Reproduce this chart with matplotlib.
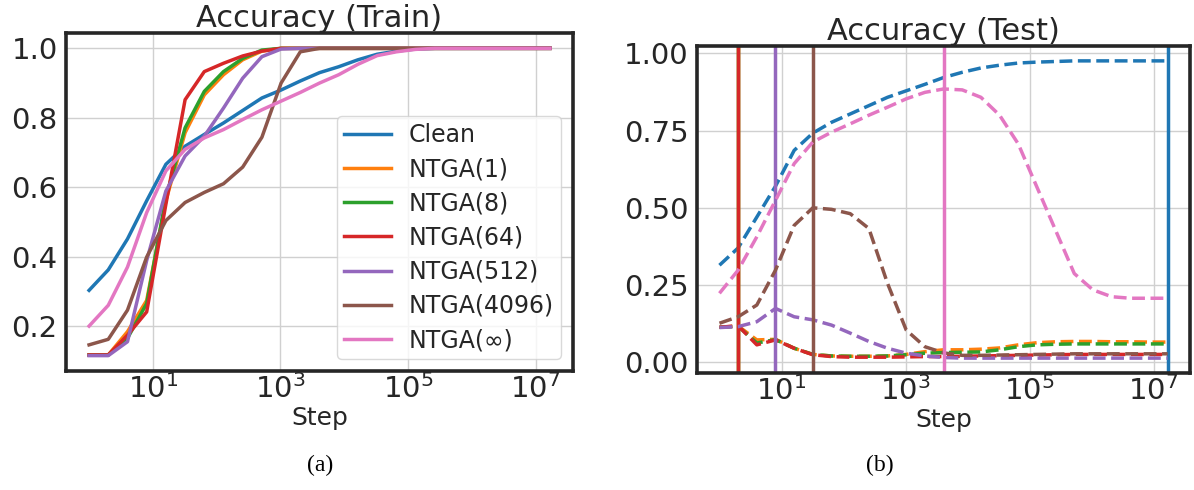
import numpy as np
import matplotlib
matplotlib.use("Agg")
import matplotlib.pyplot as plt

# ── Data ──────────────────────────────────────────────────────────────────────
steps = [1, 2, 4, 8, 16, 32, 64, 128, 256, 512, 1024, 2048, 4096, 8192,
         16384, 32768, 65536, 131072, 262144, 524288, 1048576, 2097152,
         4194304, 8388608, 16777216]

labels = ["Clean", "NTGA(1)", "NTGA(8)", "NTGA(64)", "NTGA(512)",
          "NTGA(4096)", "NTGA(\u221e)"]
colors = ["#1f77b4", "#ff7f0e", "#2ca02c", "#d62728", "#9467bd",
          "#8c564b", "#e377c2"]

train_clean = [0.303, 0.362, 0.451, 0.561, 0.666, 0.718, 0.752, 0.785, 0.821,
               0.857, 0.880, 0.906, 0.930, 0.947, 0.967, 0.983, 0.992, 0.998,
               1.0, 1.0, 1.0, 1.0, 1.0, 1.0, 1.0]
train_ntga1 = [0.117, 0.117, 0.184, 0.274, 0.561, 0.757, 0.866, 0.924, 0.967,
               0.992, 1.0, 1.0, 1.0, 1.0, 1.0, 1.0, 1.0, 1.0, 1.0, 1.0, 1.0,
               1.0, 1.0, 1.0, 1.0]
train_ntga8 = [0.117, 0.117, 0.165, 0.265, 0.570, 0.771, 0.876, 0.933, 0.971,
               0.995, 1.0, 1.0, 1.0, 1.0, 1.0, 1.0, 1.0, 1.0, 1.0, 1.0, 1.0,
               1.0, 1.0, 1.0, 1.0]
train_ntga64 = [0.117, 0.117, 0.174, 0.241, 0.551, 0.852, 0.933, 0.957, 0.978,
                0.992, 1.0, 1.0, 1.0, 1.0, 1.0, 1.0, 1.0, 1.0, 1.0, 1.0, 1.0,
                1.0, 1.0, 1.0, 1.0]
train_ntga512 = [0.115, 0.115, 0.155, 0.389, 0.589, 0.690, 0.747, 0.828, 0.914,
                 0.976, 0.998, 1.0, 1.0, 1.0, 1.0, 1.0, 1.0, 1.0, 1.0, 1.0,
                 1.0, 1.0, 1.0, 1.0, 1.0]
train_ntga4096 = [0.146, 0.162, 0.246, 0.399, 0.504, 0.556, 0.585, 0.610,
                  0.658, 0.744, 0.900, 0.990, 1.0, 1.0, 1.0, 1.0, 1.0, 1.0,
                  1.0, 1.0, 1.0, 1.0, 1.0, 1.0, 1.0]
train_ntgainf = [0.200, 0.260, 0.370, 0.527, 0.647, 0.709, 0.742, 0.766, 0.795,
                 0.823, 0.848, 0.873, 0.900, 0.924, 0.954, 0.979, 0.990, 0.997,
                 1.0, 1.0, 1.0, 1.0, 1.0, 1.0, 1.0]

test_clean = [0.314, 0.370, 0.470, 0.570, 0.686, 0.742, 0.777, 0.804, 0.831,
              0.858, 0.879, 0.900, 0.922, 0.939, 0.953, 0.962, 0.969, 0.972,
              0.974, 0.976, 0.976, 0.976, 0.976, 0.976, 0.976]
test_ntga1 = [0.113, 0.117, 0.072, 0.074, 0.045, 0.025, 0.020, 0.019, 0.019,
              0.020, 0.025, 0.034, 0.040, 0.040, 0.042, 0.046, 0.056, 0.063,
              0.066, 0.067, 0.067, 0.066, 0.066, 0.065, 0.065]
test_ntga8 = [0.113, 0.116, 0.062, 0.073, 0.045, 0.025, 0.020, 0.019, 0.019,
              0.020, 0.024, 0.029, 0.031, 0.032, 0.033, 0.040, 0.050, 0.056,
              0.058, 0.059, 0.059, 0.059, 0.059, 0.059, 0.059]
test_ntga64 = [0.113, 0.118, 0.056, 0.072, 0.045, 0.024, 0.018, 0.016, 0.016,
               0.016, 0.017, 0.018, 0.018, 0.019, 0.020, 0.021, 0.022, 0.023,
               0.024, 0.025, 0.025, 0.025, 0.025, 0.025, 0.025]
test_ntga512 = [0.112, 0.115, 0.131, 0.174, 0.147, 0.137, 0.120, 0.094, 0.067,
                0.045, 0.029, 0.020, 0.015, 0.013, 0.013, 0.013, 0.013, 0.013,
                0.013, 0.013, 0.013, 0.013, 0.013, 0.013, 0.013]
test_ntga4096 = [0.126, 0.147, 0.185, 0.298, 0.443, 0.500, 0.495, 0.481,
                 0.433, 0.255, 0.104, 0.050, 0.030, 0.022, 0.022, 0.023,
                 0.024, 0.025, 0.026, 0.027, 0.027, 0.027, 0.027, 0.027, 0.027]
test_ntgainf = [0.223, 0.298, 0.406, 0.524, 0.643, 0.713, 0.745, 0.772, 0.800,
                0.826, 0.853, 0.874, 0.885, 0.882, 0.858, 0.800, 0.707, 0.567,
                0.427, 0.287, 0.234, 0.212, 0.207, 0.207, 0.207]

# step with best test accuracy (vertical markers)
best_step = [16777216, 2, 2, 2, 8, 32, 4096]

train = [train_clean, train_ntga1, train_ntga8, train_ntga64, train_ntga512,
         train_ntga4096, train_ntgainf]
test = [test_clean, test_ntga1, test_ntga8, test_ntga64, test_ntga512,
        test_ntga4096, test_ntgainf]

# ── Style ─────────────────────────────────────────────────────────────────────
TXT = "#262626"
LW = 2.5
plt.rcParams.update({
    "font.family": "DejaVu Sans",
    "text.color": TXT,
    "axes.labelcolor": TXT,
    "xtick.color": TXT,
    "ytick.color": TXT,
    "axes.edgecolor": TXT,
})


def style_axes(ax, title):
    ax.set_xscale("log")
    ax.grid(True, color="#d0d0d0", linewidth=1.0)
    ax.set_axisbelow(True)
    for s in ax.spines.values():
        s.set_linewidth(2.6)
        s.set_color(TXT)
    ax.tick_params(axis="both", which="both", length=0, labelsize=21)
    ax.tick_params(axis="y", pad=6)
    ax.tick_params(axis="x", pad=2)
    ax.set_xticks([1e1, 1e3, 1e5, 1e7])
    ax.set_xlabel("Step", fontsize=18, labelpad=2)
    ax.set_title(title, fontsize=22, pad=1)


fig = plt.figure(figsize=(11.94, 4.90), dpi=100)
ax1 = fig.add_axes([0.0553, 0.2429, 0.4246, 0.6898])
ax2 = fig.add_axes([0.5838, 0.2388, 0.4129, 0.6673])

for lab, col, y in zip(labels, colors, train):
    ax1.plot(steps, y, color=col, lw=LW, label=lab)
style_axes(ax1, "Accuracy (Train)")
ax1.set_yticks([0.2, 0.4, 0.6, 0.8, 1.0])
ax1.legend(loc="lower right", fontsize=17, frameon=True, framealpha=0.8,
           edgecolor="#d0d0d0", handlelength=2.0, labelspacing=0.43,
           borderpad=0.3, handletextpad=0.75)

for lab, col, y, b in zip(labels, colors, test, best_step):
    ax2.plot(steps, y, color=col, lw=LW, ls="--")
    ax2.axvline(b, color=col, lw=LW)
style_axes(ax2, "Accuracy (Test)")
ax2.set_yticks([0.0, 0.25, 0.5, 0.75, 1.0])
ax2.set_yticklabels(["0.00", "0.25", "0.50", "0.75", "1.00"])

fig.text(0.268, 0.05, "(a)", ha="center", va="center", fontsize=17,
         family="Liberation Serif", color="black")
fig.text(0.737, 0.05, "(b)", ha="center", va="center", fontsize=17,
         family="Liberation Serif", color="black")

fig.savefig("out.png", dpi=100)
